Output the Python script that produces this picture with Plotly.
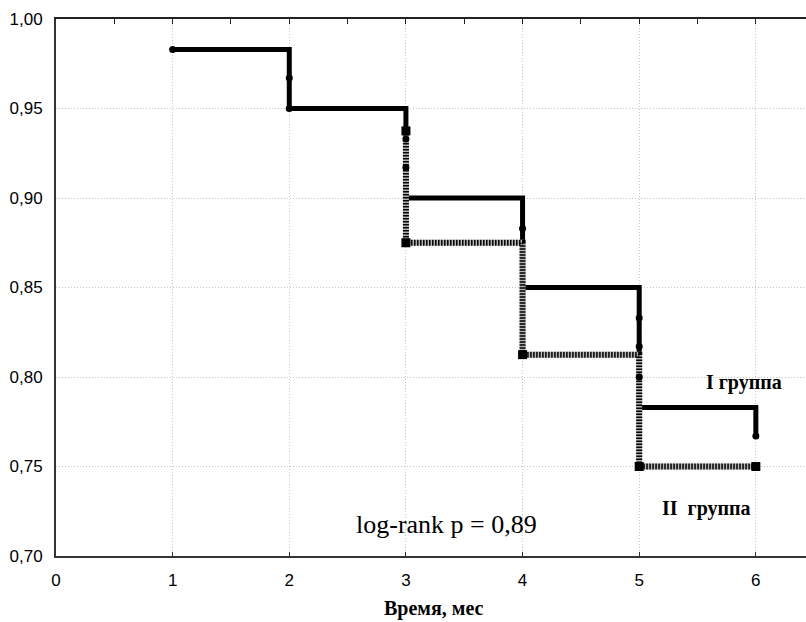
import plotly.graph_objects as go

# Group I (solid) step curve
g1_x = [1, 2, 3, 4, 5, 6]
g1_y = [0.983, 0.950, 0.900, 0.850, 0.783, 0.767]
# Group I marks on the curve
g1_mx = [1, 2, 2, 3, 3, 4, 5, 5, 5, 6]
g1_my = [0.983, 0.967, 0.950, 0.933, 0.917, 0.883, 0.833, 0.817, 0.800, 0.767]

# Group II (hatched) step curve
g2_x = [3, 3, 4, 5, 6]
g2_y = [0.9375, 0.875, 0.8125, 0.75, 0.75]

x_ticks = [0, 1, 2, 3, 4, 5, 6]
y_ticks = [0.70, 0.75, 0.80, 0.85, 0.90, 0.95, 1.00]

fig = go.Figure()

fig.add_trace(go.Scatter(x=g1_x, y=g1_y, mode="lines", line_shape="hv",
                         line=dict(color="black", width=5), hoverinfo="skip"))
fig.add_trace(go.Scatter(x=g2_x, y=g2_y, mode="lines", line_shape="hv",
                         line=dict(color="#b4b4b4", width=6), hoverinfo="skip"))
fig.add_trace(go.Scatter(x=g2_x, y=g2_y, mode="lines", line_shape="hv",
                         line=dict(color="black", width=6, dash="1.5px,1.5px"),
                         hoverinfo="skip"))
fig.add_trace(go.Scatter(x=g2_x, y=g2_y, mode="markers",
                         marker=dict(symbol="square", size=9, color="black"),
                         hoverinfo="skip"))
fig.add_trace(go.Scatter(x=g1_mx, y=g1_my, mode="markers",
                         marker=dict(symbol="circle", size=7, color="black"),
                         hoverinfo="skip"))

grid = dict(showgrid=True, gridcolor="#c4c4c4", griddash="1px,2px", gridwidth=1)
fig.update_layout(
    width=806, height=622,
    margin=dict(l=56, r=0, t=19, b=66),
    plot_bgcolor="white", paper_bgcolor="white",
    showlegend=False,
    separators=", ",
    font=dict(family="Liberation Sans, Arial", size=17, color="black"),
    xaxis=dict(range=[0, 6.43], tickvals=x_ticks, ticks="inside", ticklen=4,
               tickcolor="#333", showline=True, linecolor="#333", linewidth=2,
               zeroline=False, ticklabelstandoff=8, **grid),
    xaxis2=dict(range=[0, 6.43], overlaying="x", side="top", anchor="y",
                dtick=0.5, tick0=0, ticks="inside", ticklen=5, tickcolor="#222",
                showticklabels=False, showline=True, linecolor="#222",
                linewidth=2, showgrid=False, zeroline=False),
    yaxis=dict(range=[0.70, 1.00], tickvals=y_ticks, tickformat=".2f",
               ticks="", showline=True, linecolor="#333", linewidth=2,
               zeroline=False, ticklabelstandoff=8, **grid),
)
# dummy trace to activate top axis
fig.add_trace(go.Scatter(x=[0], y=[0.7], xaxis="x2", mode="markers",
                         marker=dict(opacity=0), hoverinfo="skip"))

serif = "Liberation Serif, Times New Roman"
fig.add_annotation(text="Время, мес", xref="paper", yref="paper", x=0.504, y=-0.098,
                   showarrow=False, yanchor="middle",
                   font=dict(family=serif, size=20, color="black", weight="bold"))
fig.add_annotation(text="log-rank p = 0,89", x=3.35, y=0.7175, showarrow=False,
                   font=dict(family=serif, size=26, color="black"))
fig.add_annotation(text="I группа", x=5.9, y=0.797, showarrow=False,
                   font=dict(family=serif, size=20, color="black", weight="bold"))
fig.add_annotation(text="II  группа", x=5.58, y=0.7265, showarrow=False,
                   font=dict(family=serif, size=20, color="black", weight="bold"))

fig.write_html("out.html")
